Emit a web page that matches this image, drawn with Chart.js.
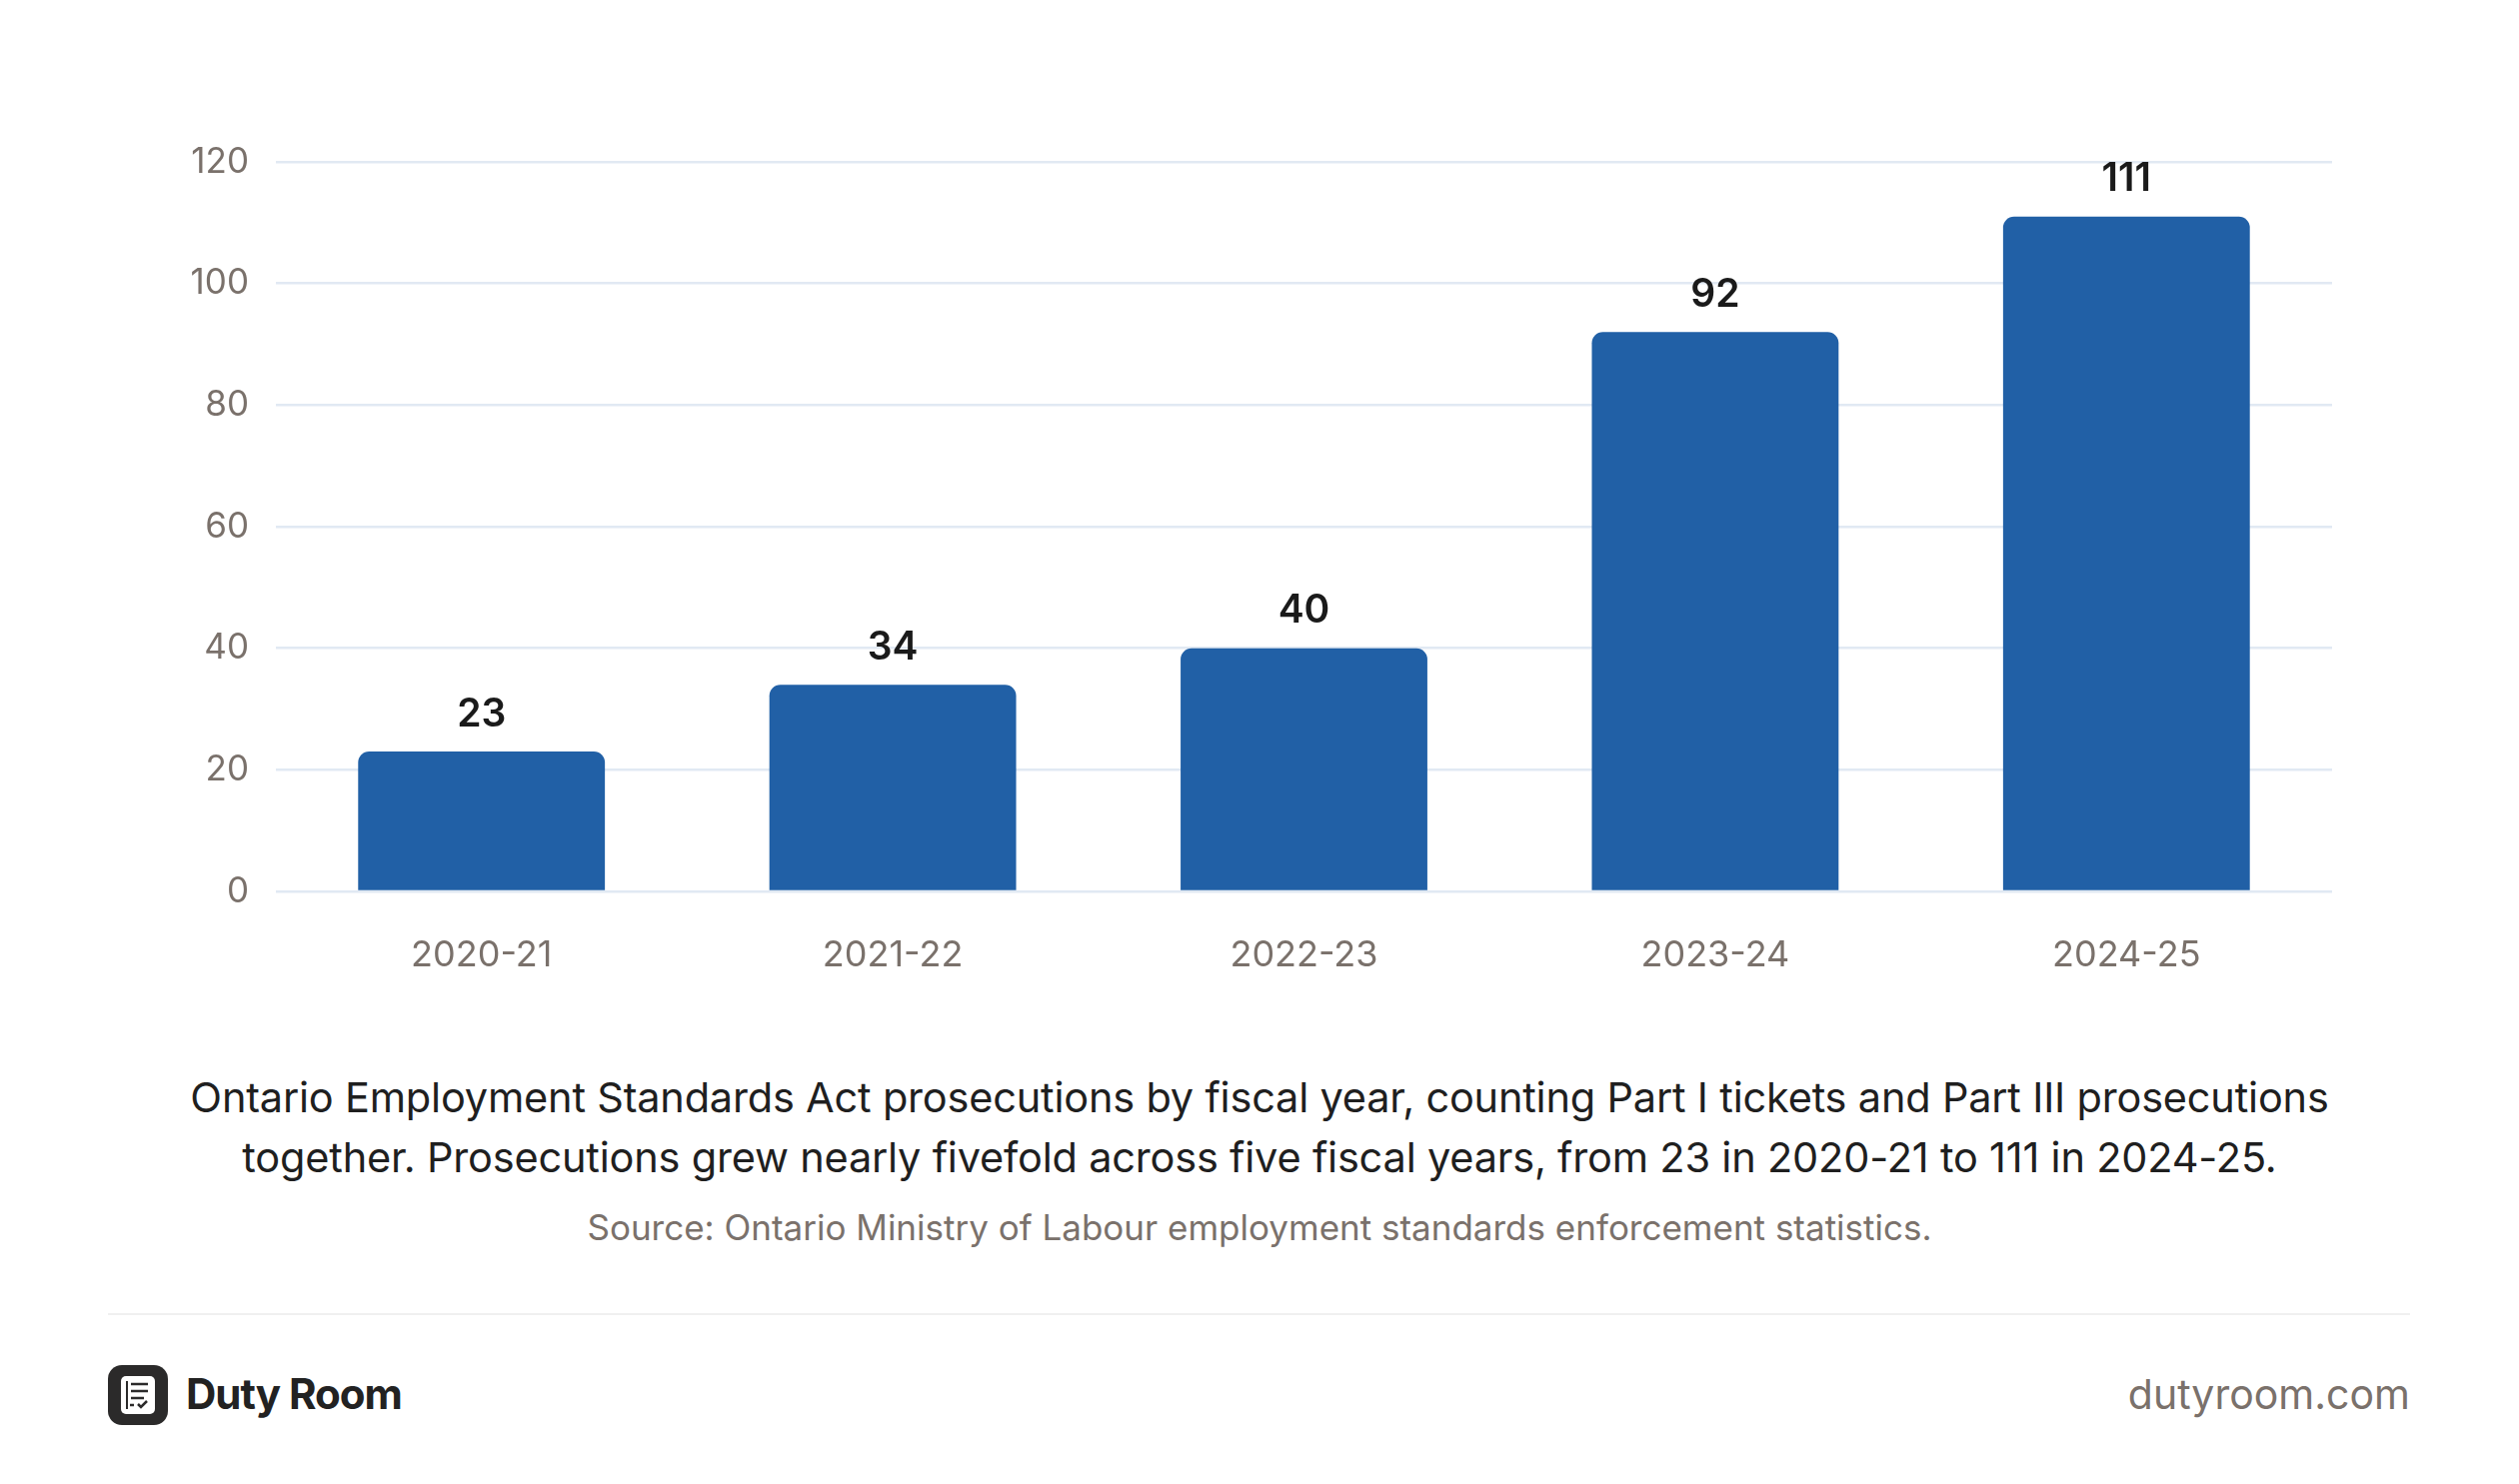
<!DOCTYPE html>
<html>
<head>
<meta charset="utf-8">
<script src="https://cdn.jsdelivr.net/npm/chart.js@4.4.1/dist/chart.umd.min.js"></script>
<style>
  html, body { margin: 0; padding: 0; background: #fff; }
  body { width: 2520px; height: 1485px; position: relative; overflow: hidden; font-family: Inter, "Noto Sans", sans-serif; }
  #chartBox { position: absolute; left: 0; top: 0; width: 2520px; height: 1020px; }
  .caption { position: absolute; left: 0; width: 2520px; text-align: center; top: 1068px; font-size: 41.5px; line-height: 60px; color: #1f1f1f; letter-spacing: -0.2px; }
  .source { position: absolute; left: 0; width: 2520px; text-align: center; top: 1207px; font-size: 35px; color: #7a716b; }
  .divider { position: absolute; left: 108px; width: 2303px; top: 1314px; height: 2px; background: #f0f0f0; }
  .logo { position: absolute; left: 108px; top: 1366px; width: 60px; height: 60px; }
  .brand { position: absolute; left: 186px; top: 1368px; font-size: 42px; font-weight: 700; color: #222; letter-spacing: -1px; line-height: 54px; }
  .site { position: absolute; right: 109px; top: 1368px; font-size: 41px; color: #7a716b; line-height: 54px; }
</style>
</head>
<body>
<div id="chartBox"><canvas id="chart"></canvas></div>
<div class="caption">Ontario Employment Standards Act prosecutions by fiscal year, counting Part I tickets and Part III prosecutions<br>together. Prosecutions grew nearly fivefold across five fiscal years, from 23 in 2020-21 to 111 in 2024-25.</div>
<div class="source">Source: Ontario Ministry of Labour employment standards enforcement statistics.</div>
<div class="divider"></div>
<svg class="logo" viewBox="0 0 60 60">
  <rect x="0" y="0" width="60" height="60" rx="14" fill="#2b2a2a"/>
  <rect x="13" y="11" width="34" height="38" rx="5" fill="#fff"/>
  <line x1="19" y1="16" x2="19" y2="44" stroke="#2b2a2a" stroke-width="2"/>
  <line x1="23" y1="19" x2="40" y2="19" stroke="#2b2a2a" stroke-width="2.5"/>
  <line x1="23" y1="26" x2="40" y2="26" stroke="#2b2a2a" stroke-width="2.5"/>
  <line x1="23" y1="33" x2="36" y2="33" stroke="#2b2a2a" stroke-width="2.5"/>
  <line x1="22" y1="40" x2="26" y2="40" stroke="#2b2a2a" stroke-width="2.5"/>
  <polyline points="30,39 33,42 39,36" fill="none" stroke="#2b2a2a" stroke-width="2.5"/>
</svg>
<div class="brand">Duty Room</div>
<div class="site">dutyroom.com</div>

<script>
// fiscal years and prosecution counts
const years = ['2020-21', '2021-22', '2022-23', '2023-24', '2024-25'];
const prosecutions = [23, 34, 40, 92, 111];
const yTicks = [0, 20, 40, 60, 80, 100, 120];

const valueLabels = {
    id: 'valueLabels',
    afterDatasetsDraw(chart) {
        const ctx = chart.ctx;
        const meta = chart.getDatasetMeta(0);
        ctx.save();
        ctx.font = '600 39px Inter, "Noto Sans", sans-serif';
        ctx.fillStyle = '#1a1a1a';
        ctx.textAlign = 'center';
        ctx.textBaseline = 'middle';
        meta.data.forEach((bar, i) => {
            const p = bar.getProps(['x', 'y'], true);
            ctx.fillText(String(prosecutions[i]), p.x, p.y - 37);
        });
        ctx.restore();
    }
};

new Chart(document.getElementById('chart'), {
    type: 'bar',
    data: {
        labels: years,
        datasets: [{
            data: prosecutions,
            backgroundColor: '#2160a6',
            borderRadius: { topLeft: 11, topRight: 11, bottomLeft: 0, bottomRight: 0 },
            borderSkipped: 'bottom',
            barPercentage: 0.6,
            categoryPercentage: 1
        }]
    },
    options: {
        responsive: true,
        maintainAspectRatio: false,
        animation: false,
        devicePixelRatio: 1,
        layout: { padding: { left: 100, right: 187, top: 162, bottom: 28 } },
        plugins: { legend: { display: false }, tooltip: { enabled: false } },
        scales: {
            x: {
                grid: { display: false, drawTicks: false },
                border: { display: false },
                ticks: { color: '#7a716b', font: { family: 'Inter', size: 36 }, padding: 43 },
                afterFit(scale) { scale.height = 100; }
            },
            y: {
                min: 0,
                max: 120,
                afterBuildTicks(scale) { scale.ticks = yTicks.map(v => ({ value: v })); },
                grid: { color: '#e1e9f3', lineWidth: 2.5, drawTicks: false },
                border: { display: false },
                ticks: { color: '#7a716b', font: { family: 'Inter', size: 35 }, padding: 27 },
                afterFit(scale) { scale.width = 176; }
            }
        }
    },
    plugins: [valueLabels]
});
</script>
</body>
</html>
